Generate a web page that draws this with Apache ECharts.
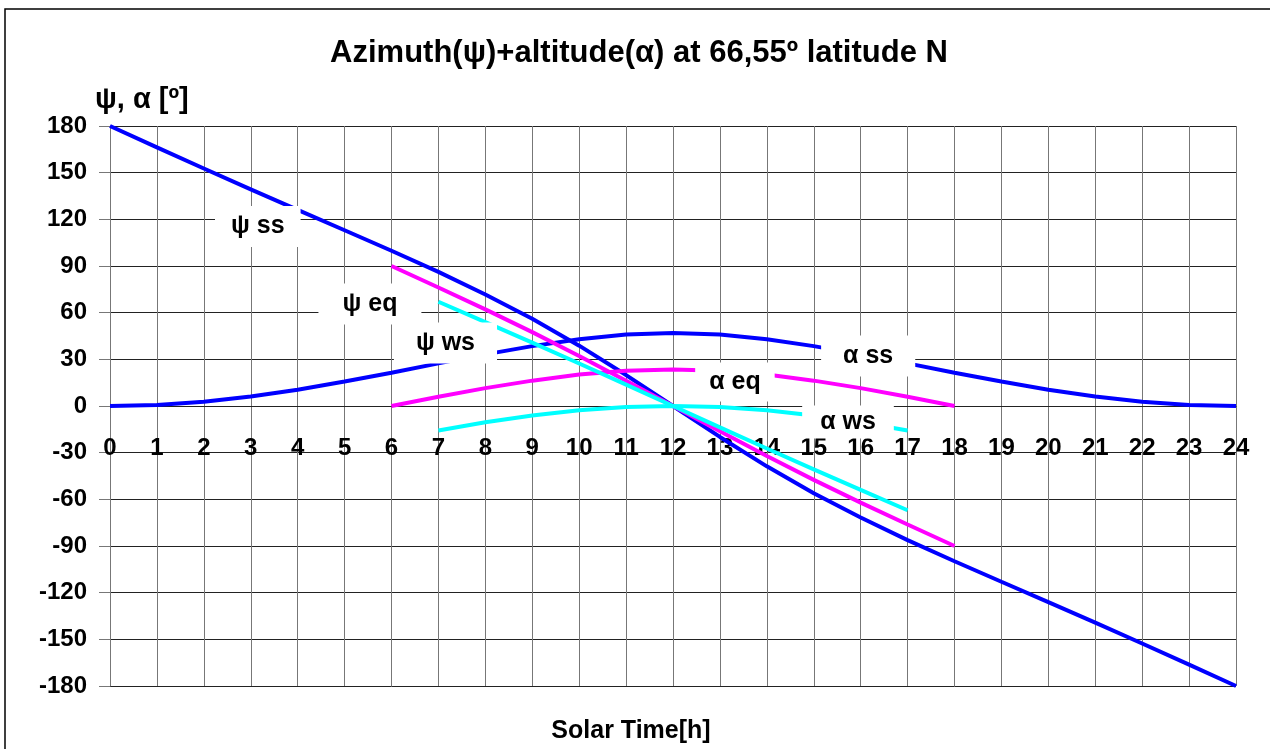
<!DOCTYPE html>
<html>
<head>
<meta charset="utf-8">
<script src="https://cdn.jsdelivr.net/npm/echarts@6/dist/echarts.min.js"></script>
<style>
html,body{margin:0;padding:0;background:#fff;}
#chart{width:1270px;height:749px;}
</style>
</head>
<body>
<div id="chart"></div>
<script>
// ---- data ----
const hoursSS = [0,1,2,3,4,5,6,7,8,9,10,11,12,13,14,15,16,17,18,19,20,21,22,23,24];
const psiSS = [180,166.3,152.7,139.3,126.1,113.0,99.8,86.2,71.7,56.1,38.8,19.9,0,-19.9,-38.8,-56.1,-71.7,-86.2,-99.8,-113.0,-126.1,-139.3,-152.7,-166.3,-180];
const altSS = [0,0.7,2.8,6.1,10.5,15.7,21.4,27.4,33.2,38.5,42.9,45.9,46.9,45.9,42.9,38.5,33.2,27.4,21.4,15.7,10.5,6.1,2.8,0.7,0];

const hoursEQ = [6,7,8,9,10,11,12,13,14,15,16,17,18];
const psiEQ = [90,76.2,62.1,47.5,32.2,16.3,0,-16.3,-32.2,-47.5,-62.1,-76.2,-90];
const altEQ = [0,5.9,11.5,16.3,20.2,22.6,23.45,22.6,20.2,16.3,11.5,5.9,0];

const hoursWS = [7,8,9,10,11,12,13,14,15,16,17];
const psiWS = [67.0,53.9,40.7,27.3,13.7,0,-13.7,-27.3,-40.7,-53.9,-67.0];
const altWS = [-15.7,-10.5,-6.1,-2.8,-0.7,0,-0.7,-2.8,-6.1,-10.5,-15.7];

const seriesNames = ['ψ ss','α ss','ψ eq','α eq','ψ ws','α ws'];
// label anchors (in data units: hour, degrees)
const labelHour = [3.15, 16.16, 5.54, 13.32, 7.15, 15.73];
const labelDeg  = [115.4, 32.1, 65.6, 15.4, 40.5, -10.3];

const titleText = 'Azimuth(ψ)+altitude(α) at 66,55º latitude N';
const yName = 'ψ, α [º]';
const xName = 'Solar Time[h]';

// ---- chart ----
const BLUE = '#0000FF', MAG = '#FF00FF', CYAN = '#00FFFF';
const FONT = '"Liberation Sans", Arial, sans-serif';
function pairs(xs, ys){ return xs.map((x,i)=>[x, ys[i]]); }
function lineSeries(name, xs, ys, color){
  return {
    name, type:'line', data: pairs(xs, ys), showSymbol:false, symbol:'none',
    lineStyle:{color, width:4, cap:'butt'}, itemStyle:{color}, z:3, silent:true, animation:false
  };
}
const padX = [16, 22, 24, 14, 22, 18];
const padT = [9, 9, 9, 8, 9, 5];
const padB = [8, 8, 8, 7, 8, 4];
const labelData = seriesNames.map((n,i)=>({
  name:n, value:[labelHour[i], labelDeg[i]],
  label:{padding:[padT[i], padX[i], padB[i], padX[i]]}
}));

const chart = echarts.init(document.getElementById('chart'), null, {renderer:'canvas'});
chart.setOption({
  animation:false,
  backgroundColor:'#fff',
  grid:{left:110, right:34, top:126, bottom:63, containLabel:false},
  xAxis:{
    type:'value', min:0, max:24, interval:1, position:'bottom', offset:-280,
    axisLine:{show:true, onZero:false, lineStyle:{color:'#222', width:1}},
    axisTick:{show:false},
    axisLabel:{margin:30, color:'#000', fontFamily:FONT, fontWeight:'bold', fontSize:24, hideOverlap:false},
    splitLine:{show:true, lineStyle:{color:'#777', width:1}}
  },
  yAxis:{
    type:'value', min:-180, max:180, interval:30,
    axisLine:{show:true, lineStyle:{color:'#777', width:1}},
    axisTick:{show:true, length:11, lineStyle:{color:'#777'}},
    axisLabel:{margin:23, color:'#000', fontFamily:FONT, fontWeight:'bold', fontSize:24},
    splitLine:{show:true, lineStyle:{color:'#222', width:1}}
  },
  series:[
    lineSeries('ψ ss', hoursSS, psiSS, BLUE),
    lineSeries('α ss', hoursSS, altSS, BLUE),
    lineSeries('ψ eq', hoursEQ, psiEQ, MAG),
    lineSeries('α eq', hoursEQ, altEQ, MAG),
    lineSeries('ψ ws', hoursWS, psiWS, CYAN),
    lineSeries('α ws', hoursWS, altWS, CYAN),
    {
      type:'scatter', symbolSize:0, z:10, silent:true, animation:false,
      itemStyle:{opacity:1},
      data: labelData,
      label:{show:true, position:'inside', formatter:p=>p.name, color:'#000', opacity:1,
        fontFamily:FONT, fontWeight:'bold', fontSize:25, lineHeight:24,
        backgroundColor:'#ffffff'}
    }
  ],
  graphic:[
    {type:'rect', shape:{x:5, y:9, width:1300, height:800}, style:{fill:null, stroke:'#000', lineWidth:1.5}, silent:true, z:-1},
    {type:'text', x:639, y:53, style:{text:titleText, font:'bold 31px '+FONT, fill:'#000', textAlign:'center', textVerticalAlign:'middle'}},
    {type:'text', x:95, y:100, style:{text:yName, font:'bold 29px '+FONT, fill:'#000', textAlign:'left', textVerticalAlign:'middle'}},
    {type:'text', x:631, y:731, style:{text:xName, font:'bold 25px '+FONT, fill:'#000', textAlign:'center', textVerticalAlign:'middle'}}
  ]
});
</script>
</body>
</html>
